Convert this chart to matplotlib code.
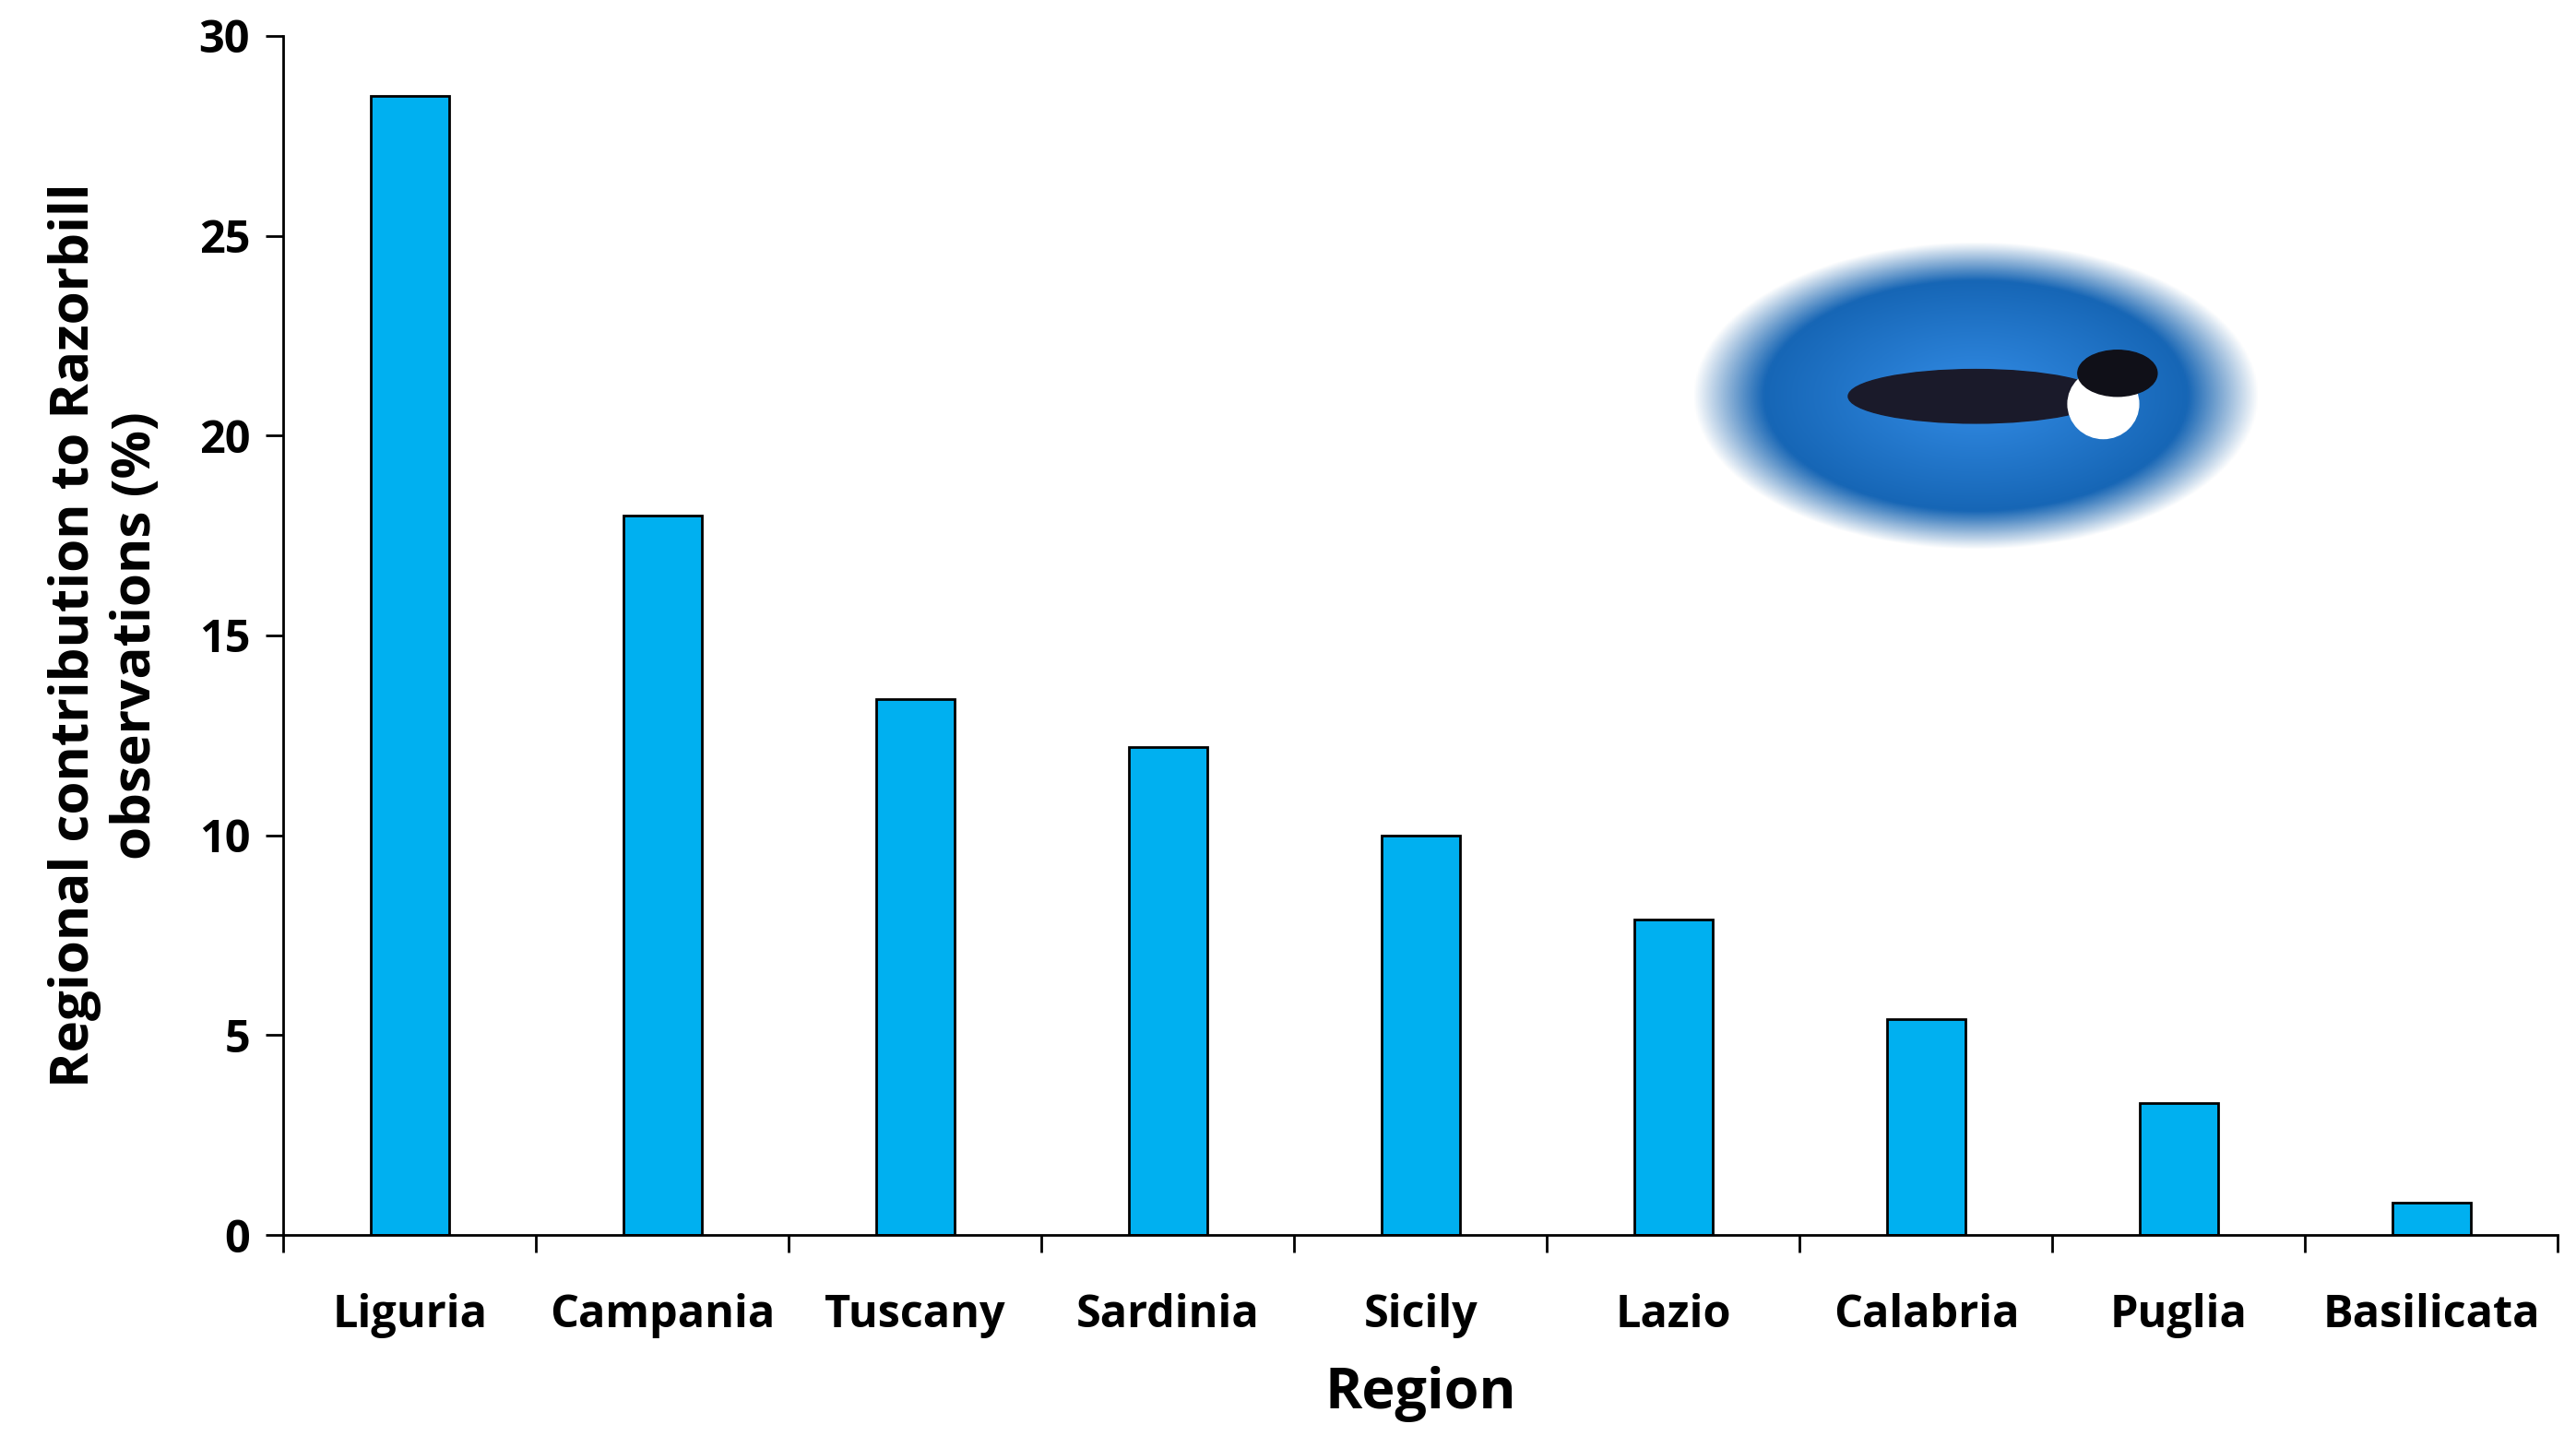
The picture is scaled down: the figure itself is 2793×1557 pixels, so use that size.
import matplotlib
matplotlib.use("Agg")
import matplotlib.pyplot as plt
import numpy as np
from matplotlib.patches import Ellipse

regions = ["Liguria", "Campania", "Tuscany", "Sardinia", "Sicily", "Lazio", "Calabria", "Puglia", "Basilicata"]
values = [28.5, 18.0, 13.4, 12.2, 10.0, 7.9, 5.4, 3.3, 0.8]

plt.rcParams['font.family'] = ['Open Sans', 'DejaVu Sans']
fig = plt.figure(figsize=(27.93, 15.57), dpi=100)
ax = fig.add_axes([0.11, 0.14, 0.883, 0.835])
x = np.arange(len(regions))
ax.bar(x, values, width=0.31, color="#00B0F0", edgecolor="black", linewidth=2)
ax.set_xlim(-0.5, len(regions) - 0.5)
ax.set_ylim(0, 30)
ax.set_yticks(range(0, 31, 5))
ax.set_xticks(x)
ax.set_xticklabels(regions, fontsize=35, fontweight="bold")
ax.set_xticks(np.arange(-0.5, len(regions), 1), minor=True)
ax.tick_params(axis="x", which="major", length=0, pad=45)
ax.tick_params(axis="x", which="minor", length=14, width=2, direction="out")
ax.tick_params(axis="y", length=14, width=2, labelsize=35, pad=12)
for t in ax.get_yticklabels():
    t.set_fontweight("bold")
for s in ["top", "right"]:
    ax.spines[s].set_visible(False)
for s in ["left", "bottom"]:
    ax.spines[s].set_linewidth(2)
ax.set_xlabel("Region", fontsize=44, fontweight="bold", labelpad=22)
ax.set_ylabel("Regional contribution to Razorbill\nobservations (%)", fontsize=42, fontweight="bold", labelpad=28)

# Decorative photo placeholder: blue oval with soft gradient
iax = fig.add_axes([0.657, 0.617, 0.22, 0.214])
iax.set_axis_off()
yy, xx = np.mgrid[-1:1:300j, -1:1:300j]
r = np.sqrt(xx**2 + yy**2)
img = np.zeros((300, 300, 4))
img[..., 0] = 0.05 + 0.15 * (1 - r)
img[..., 1] = 0.35 + 0.2 * (1 - r)
img[..., 2] = 0.65 + 0.25 * (1 - r)
img[..., 3] = np.clip((1 - r) * 4, 0, 1)
iax.imshow(img, extent=[-1, 1, -1, 1], aspect="auto")
iax.add_patch(Ellipse((0.0, 0.0), 0.9, 0.35, color="#1a1a2a"))
iax.add_patch(Ellipse((0.45, -0.05), 0.25, 0.45, color="white"))
iax.add_patch(Ellipse((0.5, 0.15), 0.28, 0.3, color="#101018"))
iax.set_xlim(-1, 1); iax.set_ylim(-1, 1)
fig.savefig("out.png", dpi=100)
